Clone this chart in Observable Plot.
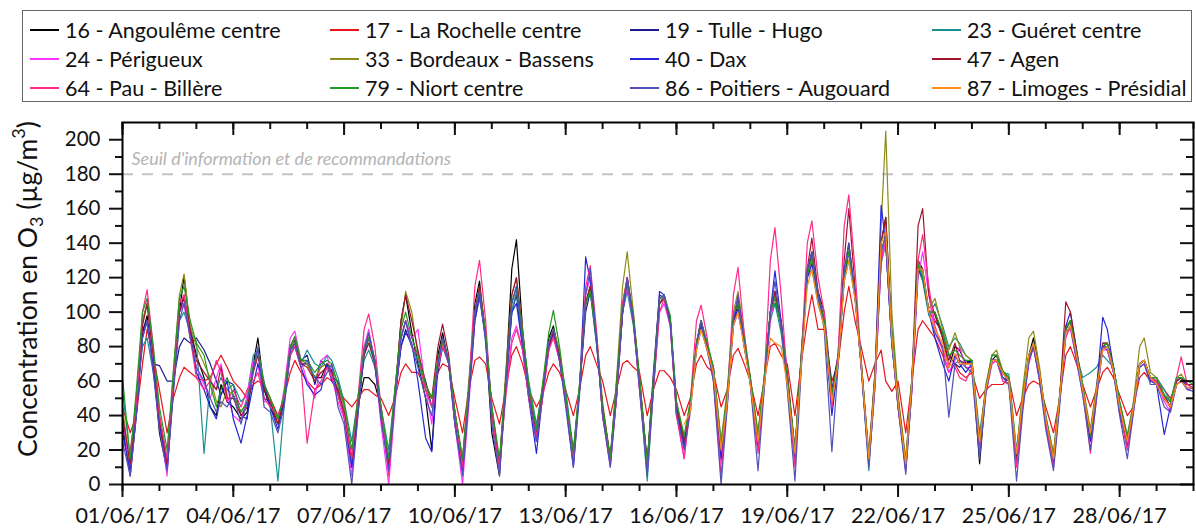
<!DOCTYPE html>
<html><head><meta charset="utf-8">
<script src="https://cdn.jsdelivr.net/npm/d3@7"></script>
<script src="https://cdn.jsdelivr.net/npm/@observablehq/plot@0.6"></script>
<style>
body{margin:0;background:#fff;width:1196px;height:530px;overflow:hidden;font-family:Lato,"Open Sans",sans-serif;}
#legend{position:relative;height:105px;width:1196px;}
#legend .box{position:absolute;left:22px;top:10px;width:1168px;height:90px;border:1.5px solid #666;}
#legend .sw{position:absolute;width:29px;height:1.6px;}
#legend .lb{position:absolute;font-size:21.5px;line-height:26px;color:#111;white-space:nowrap;}
</style></head>
<body>
<div id="legend"><div class="box"></div></div>
<div id="chart"></div>
<script>
// ---- data (hourly O3 sampled at 0h,5h,9h,13h,16h,20h each day, µg/m3) ----
const stations = ["16 - Angoulême centre","17 - La Rochelle centre","19 - Tulle - Hugo","23 - Guéret centre",
  "24 - Périgueux","33 - Bordeaux - Bassens","40 - Dax","47 - Agen",
  "64 - Pau - Billère","79 - Niort centre","86 - Poitiers - Augouard","87 - Limoges - Présidial"];
const sampleHours = [0,5,9,13,16,20];
const startDays = [1,1,1,1,1,1,1,1,1,1,1,16];
const ANG = [35,5,40,88,98,70, 30,8,55,100,121,90, 75,62,45,40,58,48, 45,38,42,70,85,55, 45,35,48,80,84,70, 70,62,62,70,66,52, 40,15,45,62,62,58, 45,10,50,95,110,88, 70,50,20,75,88,70, 35,8,55,105,118,85, 30,5,60,125,142,90, 55,30,55,85,92,75, 50,15,55,105,115,85, 40,15,50,100,120,95, 60,10,60,105,108,95, 40,25,45,80,95,80, 65,20,50,95,105,80, 60,25,60,100,105,95, 65,20,70,120,135,110, 95,45,70,120,140,110, 70,15,60,140,155,85, 45,12,60,130,125,100, 100,85,68,80,78,70, 72,12,55,72,75,65, 60,15,50,75,85,65, 35,12,50,90,95,75, 55,30,55,80,82,68, 45,25,45,70,72,62, 62,50,45,60,62,58, 58];
const LRO = [45,30,40,70,90,75, 55,30,50,62,68,65, 62,60,62,70,75,68, 60,55,50,58,60,58, 50,40,50,65,72,65, 60,55,58,62,60,55, 50,45,50,55,55,52, 50,40,50,65,70,65, 65,55,50,65,70,68, 50,30,55,72,74,70, 50,35,55,75,80,70, 55,45,52,65,70,65, 55,40,55,75,80,70, 60,40,55,70,72,68, 65,40,55,66,66,62, 55,40,50,70,75,68, 65,45,55,75,79,70, 60,40,60,80,82,75, 70,40,70,95,110,90, 90,60,70,100,115,95, 80,60,70,78,60,54, 60,30,60,90,95,90, 85,75,65,70,65,62, 65,50,55,58,58,58, 62,40,50,58,60,58, 45,30,50,75,80,70, 58,45,55,65,68,62, 52,40,45,62,65,60, 60,55,50,58,60,58, 58];
const TUL = [30,10,45,90,95,70, 69,60,60,80,85,82, 85,78,70,60,52,60, 58,40,38,70,78,50, 48,38,50,80,85,72, 75,58,72,68,62,60, 45,10,45,78,88,72, 40,12,50,80,90,80, 75,60,45,65,80,70, 42,12,55,100,112,88, 45,12,55,100,110,80, 55,25,55,78,88,72, 52,18,55,100,112,82, 45,15,55,100,115,95, 62,12,65,110,108,95, 45,25,45,82,95,80, 68,20,50,95,100,82, 62,25,60,100,112,92, 60,15,75,125,130,112, 100,55,75,125,130,112, 70,15,65,130,140,82, 48,10,60,125,120,100, 95,88,75,70,68,72, 70,25,55,72,72,65, 62,15,50,72,80,62, 38,15,50,90,95,75, 55,30,55,80,78,65, 42,25,45,70,72,62, 58,52,45,58,60,58, 56];
const GUE = [55,15,50,80,85,65, 40,15,55,95,100,88, 83,18,60,55,62,55, 58,48,52,75,78,60, 45,2,45,75,82,70, 78,70,68,75,72,62, 48,25,50,72,78,68, 45,20,55,85,95,80, 72,55,45,68,80,72, 40,15,55,95,108,85, 45,10,60,100,112,85, 60,35,55,82,90,75, 55,20,58,105,112,82, 45,15,60,100,112,92, 58,2,55,105,110,95, 48,25,48,78,90,78, 68,25,50,92,100,82, 60,30,60,95,105,88, 60,20,72,120,125,105, 92,50,70,118,130,108, 70,8,60,128,140,80, 50,8,60,125,118,98, 105,92,80,85,82,75, 72,30,55,75,75,65, 64,20,52,75,82,65, 40,18,52,88,92,75, 62,65,68,75,72,68, 48,28,48,68,70,62, 62,55,48,62,62,58, 58];
const PER = [40,5,45,95,105,70, 35,5,60,100,105,85, 68,58,50,62,70,52, 40,36,52,72,70,48, 48,35,55,85,89,72, 60,50,72,75,62,48, 38,5,40,80,90,70, 35,0,45,85,95,85, 90,55,35,70,82,70, 35,0,45,95,110,85, 40,8,55,85,92,78, 50,25,50,78,88,72, 48,12,55,110,120,85, 40,10,50,100,115,95, 55,8,55,100,105,92, 42,15,45,80,92,78, 62,12,45,92,100,82, 58,20,55,95,110,95, 62,15,68,120,130,110, 95,45,72,125,135,110, 70,12,55,130,140,82, 45,10,55,120,135,110, 88,78,65,72,80,68, 68,20,55,70,72,62, 60,12,45,70,80,62, 35,10,48,88,90,72, 52,25,52,78,78,65, 45,20,42,68,70,60, 60,48,42,60,62,56, 56];
const BOR = [45,10,50,95,105,75, 40,12,65,110,122,92, 80,70,62,48,45,55, 52,42,48,68,78,58, 50,35,52,78,85,72, 70,62,68,70,68,58, 45,15,50,80,85,72, 42,15,55,90,112,100, 75,55,50,72,82,72, 42,15,60,100,115,88, 42,12,65,110,120,90, 55,30,58,82,90,78, 50,15,58,105,115,88, 48,15,60,115,135,100, 62,12,62,108,108,95, 48,28,48,82,95,82, 68,25,55,100,112,88, 62,30,62,100,110,92, 62,20,72,122,130,110, 95,52,72,122,135,112, 72,18,65,150,205,99, 52,15,62,130,122,102, 108,90,78,88,80,75, 72,25,58,75,78,66, 62,18,55,85,89,68, 38,18,52,92,95,78, 58,32,58,82,82,68, 48,28,48,80,85,65, 62,52,48,62,64,58, 58];
const DAX = [30,8,42,85,95,68, 35,10,55,100,108,88, 65,55,45,38,52,60, 38,24,40,58,70,58, 45,32,48,75,80,68, 58,52,55,70,60,55, 40,10,42,75,85,70, 40,10,50,80,88,82, 60,27,19,68,85,72, 38,8,50,95,110,85, 40,10,55,100,105,80, 50,18,52,80,88,72, 48,10,55,132,118,85, 42,12,55,100,118,95, 58,10,60,112,110,95, 45,22,45,80,92,78, 65,15,48,95,102,82, 60,20,58,100,124,95, 60,12,70,120,128,108, 95,40,70,120,135,110, 70,12,62,162,140,82, 48,10,58,125,120,100, 85,70,60,75,70,65, 70,20,55,72,72,62, 60,12,48,72,80,62, 36,12,48,92,100,78, 55,25,55,97,90,68, 42,22,45,70,72,60, 58,29,45,60,62,55, 56];
const AGE = [40,12,48,92,105,75, 38,12,58,100,110,90, 72,65,60,55,68,50, 50,40,45,65,75,55, 48,35,50,78,82,70, 68,60,65,68,65,55, 42,15,45,75,82,70, 40,12,52,95,110,95, 78,58,50,80,93,75, 42,12,55,100,115,88, 42,12,60,110,120,88, 52,30,55,80,88,75, 50,18,55,105,115,85, 45,15,55,105,120,98, 60,12,60,105,108,95, 45,25,45,82,95,80, 65,20,50,95,108,85, 60,25,60,100,112,92, 62,18,72,125,143,112, 95,50,72,130,160,115, 72,15,62,140,155,85, 50,12,60,150,160,110, 98,85,72,82,72,70, 70,25,55,72,72,65, 60,15,50,75,82,65, 38,15,50,106,100,78, 55,30,55,82,82,68, 45,25,45,70,72,62, 60,50,45,60,62,58, 58];
const PAU = [20,20,45,100,113,80, 40,15,60,105,110,85, 62,55,60,72,65,48, 55,45,55,60,65,50, 45,40,50,75,80,68, 24,55,60,68,62,52, 40,15,50,90,99,80, 45,5,50,85,95,80, 75,55,45,68,80,72, 40,10,55,115,130,95, 40,10,50,82,90,78, 50,28,50,78,85,72, 50,15,55,115,127,90, 40,12,50,105,120,95, 55,10,55,100,108,92, 40,15,48,95,104,85, 60,5,50,110,126,88, 58,18,60,130,149,110, 62,10,70,140,153,120, 100,45,75,150,168,125, 72,12,58,130,145,85, 45,8,55,130,145,115, 92,78,70,68,62,60, 68,20,52,70,72,60, 58,10,45,72,80,60, 35,10,48,85,92,72, 55,18,50,80,80,65, 45,20,45,70,72,62, 60,50,45,62,74,58, 56];
const NIO = [62,15,55,100,108,80, 45,20,65,108,115,95, 82,75,58,45,55,62, 52,42,48,68,78,58, 50,38,52,80,86,72, 72,65,70,72,70,58, 48,20,50,78,85,72, 45,15,55,90,100,85, 75,58,50,72,85,72, 42,15,55,100,112,88, 45,15,60,105,115,88, 58,32,58,88,101,80, 52,18,58,105,112,85, 45,15,58,102,118,98, 62,12,62,108,110,98, 48,28,48,82,95,82, 68,22,52,98,105,85, 62,28,62,100,108,92, 62,20,72,122,132,110, 95,52,72,122,135,112, 72,15,62,135,145,90, 50,12,62,128,120,100, 100,88,75,78,75,72, 72,25,55,75,75,66, 62,18,52,75,82,65, 40,15,50,90,95,76, 58,28,55,80,82,68, 48,28,45,70,72,62, 62,52,48,62,62,60, 58];
const POI = [25,5,40,85,95,65, 32,8,52,95,105,85, 68,60,50,42,48,45, 52,35,48,66,80,45, 42,30,45,78,82,68, 72,62,58,65,70,45, 35,0,40,78,88,72, 38,8,48,85,95,80, 68,50,40,70,85,70, 35,5,50,100,112,82, 35,5,55,105,115,82, 52,25,52,82,90,72, 45,10,52,110,125,85, 40,10,50,100,120,95, 55,5,55,108,110,92, 42,20,42,80,95,78, 60,0,45,95,110,82, 58,8,55,100,118,92, 55,2,65,125,135,110, 90,19,68,125,140,110, 68,10,58,135,145,82, 45,6,55,125,125,100, 88,80,39,70,72,68, 65,15,52,72,72,62, 58,2,42,72,80,60, 32,8,45,88,92,72, 52,20,50,80,80,65, 40,15,42,68,70,58, 58,45,42,58,60,55, 54];
const LIM = [null,35,42,78,90,78, 65,20,48,92,100,80, 58,25,58,85,82,80, 58,18,68,115,125,105, 92,48,70,118,130,108, 70,15,60,140,147,85, 48,12,60,125,125,100, 90,82,68,76,70,70, 70,25,55,72,72,65, 60,18,50,75,82,65, 38,15,50,88,92,75, 55,30,55,78,80,66, 45,25,45,70,72,62, 58,50,45,58,60,56, 56];
const seriesValues = [ANG,LRO,TUL,GUE,PER,BOR,DAX,AGE,PAU,NIO,POI,LIM];
const majorTickDays = [1,4,7,10,13,16,19,22,25,28];
const allTickDays = [1,2,3,4,5,6,7,8,9,10,11,12,13,14,15,16,17,18,19,20,21,22,23,24,25,26,27,28,29,30];
const yMajor = [0,20,40,60,80,100,120,140,160,180,200];
const yMinor = [10,30,50,70,90,110,130,150,170,190];
const threshold = 180;
const thresholdLabel = "Seuil d'information et de recommandations";

// ---- styles ----
const colors = ["#000000","#e8141c","#1c1c8c","#1a9090","#ff33ff","#8c8c1a","#2424d8","#a0142d","#ff2a8a","#229922","#5050b8","#ff8c1a"];

const day = d => new Date(Date.UTC(2017,5,d));
function rowsOf(vals, startDay){
  return vals.map((v,k)=>({date: new Date(Date.UTC(2017,5,startDay + Math.floor(k/6), sampleHours[k%6])), value: v}));
}

// legend
const legend = document.getElementById("legend");
const colX = [30,330,630,932], rowY = [30,59,88];
stations.forEach((s,i)=>{
  const c = i%4, r = Math.floor(i/4);
  const sw = document.createElement("div"); sw.className="sw";
  sw.style.left = colX[c]+"px"; sw.style.top = (rowY[r]-1)+"px"; sw.style.background = colors[i];
  legend.appendChild(sw);
  const lb = document.createElement("div"); lb.className="lb";
  lb.style.left = (colX[c]+35)+"px"; lb.style.top = (rowY[r]-13)+"px"; lb.textContent = s;
  legend.appendChild(lb);
});

const W = 1196, H = 425, mL = 122, mR = 3, mT = 17, mB = 46;
const innerW = W - mL - mR, innerH = H - mT - mB;
const fmt = d3.utcFormat("%d/%m/%y");

const chart = Plot.plot({
  width: W, height: H, marginLeft: mL, marginRight: mR, marginTop: mT, marginBottom: mB,
  x: {type: "utc", domain: [day(1), day(30)]},
  y: {domain: [0, 210]},
  style: {fontFamily: "Lato, 'Open Sans', sans-serif", fontSize: "20px", color: "#111", background: "white"},
  marks: [
    Plot.ruleY([threshold], {stroke: "#c4c4c4", strokeWidth: 2, strokeDasharray: "11,9"}),
    Plot.text([thresholdLabel], {x: () => day(1), y: () => threshold, text: d => d, dx: 9, dy: -15, textAnchor: "start",
      fontStyle: "italic", fill: "#b4b4b4", fontSize: 18}),
    ...seriesValues.map((vals,i)=>Plot.line(rowsOf(vals, startDays[i]), {x: "date", y: "value", stroke: colors[i], strokeWidth: 1.2})),
    Plot.axisX(majorTickDays.map(day), {tickSize: 13, tickPadding: 10, tickFormat: fmt, fontSize: 21.5, strokeWidth: 2, label: null}),
    Plot.axisX(allTickDays.map(day), {tickSize: 7, text: null, strokeWidth: 2, label: null}),
    Plot.axisY(yMajor, {tickSize: 13, tickPadding: 9, fontSize: 20.5, strokeWidth: 2, label: null}),
    Plot.axisY(yMinor, {tickSize: 7, text: null, strokeWidth: 2, label: null}),
    Plot.tickY(yMajor, {insetLeft: innerW - 13, strokeWidth: 2}),
    Plot.tickY(yMinor, {insetLeft: innerW - 7, strokeWidth: 2}),
    Plot.tickX(majorTickDays.map(day), {insetBottom: innerH - 13, strokeWidth: 2}),
    Plot.tickX(allTickDays.map(day), {insetBottom: innerH - 7, strokeWidth: 2}),
    Plot.frame({stroke: "black", strokeWidth: 2})
  ]
});
document.getElementById("chart").appendChild(chart);

// y-axis title with subscript / superscript
const t = d3.select(chart).append("text")
  .attr("transform", "translate(37,184) rotate(-90)")
  .attr("text-anchor", "middle")
  .attr("fill", "#111")
  .style("font-family", "Lato, 'Open Sans', sans-serif").style("font-size", "26.5px");
t.append("tspan").text("Concentration en O");
t.append("tspan").attr("font-size", 18).attr("dy", 6).text("3");
t.append("tspan").attr("dy", -6).text(" (µg/m");
t.append("tspan").attr("font-size", 18).attr("dy", -12).text("3");
t.append("tspan").attr("dy", 12).text(")");
</script>
</body></html>
